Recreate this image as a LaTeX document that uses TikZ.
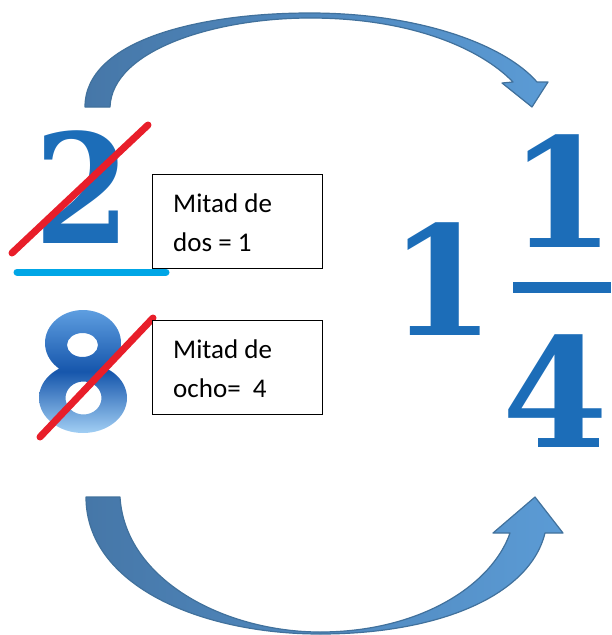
\documentclass[tikz,border=0pt]{standalone}
\usepackage{fontspec}
\setmainfont{Carlito}
\newfontfamily\digitfont{DejaVu Serif}
\definecolor{numblue}{HTML}{1C6DB8}
\definecolor{arrdark}{HTML}{4677A8}
\definecolor{arrlight}{HTML}{5B9BD5}
\definecolor{arredge}{HTML}{41719C}
\definecolor{strike}{HTML}{E81E2A}
\definecolor{barcyan}{HTML}{00A6E6}
\definecolor{eighttop}{HTML}{5E9EE0}
\definecolor{eightmid}{HTML}{1656AC}
\definecolor{eightbot}{HTML}{A2CFF4}
\tikzset{
  bigdigit/.style={text=numblue, inner sep=0pt, anchor=base, text height=111pt, text depth=0pt,
    font={\digitfont\bfseries\fontsize{152}{152}\selectfont}},
  curvarrow/.style={draw=arredge, line width=1.2pt, line join=round},
  strikeline/.style={draw=strike, line width=7pt, line cap=round},
  notebox/.style={draw=black, line width=0.8pt, minimum width=170pt, minimum height=94pt, anchor=north west, inner sep=0pt},
  notetext/.style={anchor=base west, inner sep=0pt, font={\fontsize{27}{39}\selectfont}}
}
\begin{document}
\begin{tikzpicture}[x=1pt,y=-1pt]
\useasboundingbox (0,0) rectangle (611,635);
% fraction bar
\fill[numblue] (513,282) rectangle (611,293);
% top curved arrow
\shade[curvarrow, left color=arrdark, right color=arrlight]
  (85,107) .. controls (85,40) and (200,13) .. (310,13)
  .. controls (420,13) and (505,45) .. (537,82)
  -- (548,82) -- (532,107) -- (502,83) -- (513,82)
  .. controls (480,48) and (410,18) .. (310,18)
  .. controls (215,18) and (112,50) .. (110,107) -- cycle;
% bottom curved arrow
\shade[curvarrow, left color=arrdark, right color=arrlight]
  (86,497) .. controls (86,585) and (200,634) .. (320,634)
  .. controls (440,634) and (530,595) .. (545,533)
  -- (563,533) -- (535,497) -- (493,533) -- (510,533)
  .. controls (492,585) and (420,632) .. (320,632)
  .. controls (225,632) and (125,580) .. (120,497) -- cycle;
% digit 2
\node[bigdigit, xscale=0.91] (two) at (83,243) {2};
% underline
\coordinate (ulA) at (17,272);
\coordinate (ulB) at (166,272);
\draw[draw=barcyan, line width=7pt, line cap=round] (ulA) -- (ulB);
% digit 8: two lobes with reversed holes, shaded light-dark-light
\shade[nonzero rule, top color=eighttop, bottom color=eightbot, middle color=eightmid]
  (83,343) ellipse [x radius=38, y radius=33]
  (83,398) ellipse [x radius=44, y radius=35]
  (98,345) arc [start angle=0, end angle=-360, x radius=15.5, y radius=12]
  (101.5,398) arc [start angle=0, end angle=-360, x radius=18, y radius=16.5];
% strikes
\coordinate (s1a) at (12,253);
\coordinate (s1b) at (148,125);
\coordinate (s2a) at (40,437);
\coordinate (s2b) at (153,318);
\draw[strikeline] (s1a) -- (s1b);
\draw[strikeline] (s2a) -- (s2b);
% boxes
\node[notebox, fill=white] (box1) at (152,174) {};
\node[notetext] (b1l1) at (173,212) {Mitad de};
\node[notetext] (b1l2) at (173,251) {dos = 1};
\node[notebox, fill=white] (box2) at (152,320) {};
\node[notetext] (b2l1) at (173,358) {Mitad de};
\node[notetext] (b2l2) at (173,397) {ocho=\ \ 4};
% mixed number
\node[bigdigit] (whole) at (442,335) {1};
\node[bigdigit, inner xsep=-12pt] (num) at (562,247) {1};
\node[bigdigit] (den) at (555,447) {4};
\end{tikzpicture}
\end{document}
